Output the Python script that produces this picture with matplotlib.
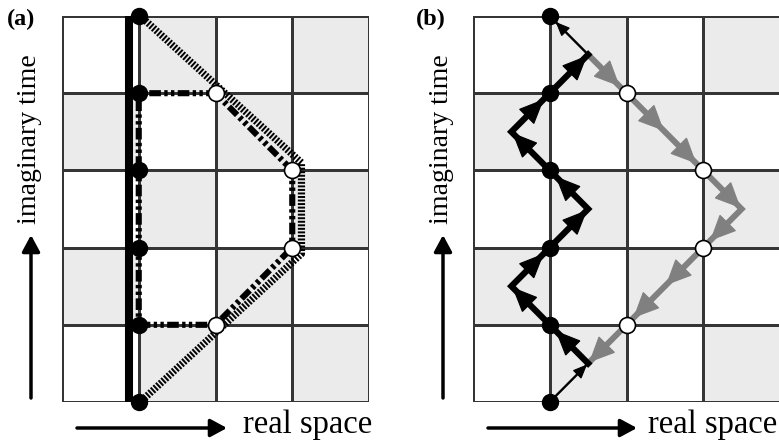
import matplotlib.pyplot as plt
import numpy as np
from matplotlib.colors import ListedColormap
from matplotlib.patches import FancyArrowPatch

# checkerboard, rows listed from bottom to top, 1 = shaded cell
board = [
    [0, 1, 0, 1],
    [1, 0, 1, 0],
    [0, 1, 0, 1],
    [1, 0, 1, 0],
    [0, 1, 0, 1],
]

# (a) classical path, imaginary-time slices, loop and hatched envelope
slice_y = [0, 1, 2, 3, 4, 5]
slice_x = [1, 1, 1, 1, 1, 1]
classical_x = [0.87, 0.87]
classical_y = [0, 5]
loop_x = [1, 2, 3, 3, 2, 1, 1]
loop_y = [1, 1, 2, 3, 4, 4, 1]
hatch_x = [1.02, 3.12, 3.12, 1.02]
hatch_y = [5.0, 3.1, 1.92, 0.0]
open_x = [2, 3, 3, 2]
open_y = [1, 2, 3, 4]

# (b) zig-zag worldline (black) and excursion (gray)
zig_x = [1, 1.5, 1, 0.5, 1, 1.5, 1, 0.5, 1, 1.5, 1]
zig_y = [0, 0.5, 1, 1.5, 2, 2.5, 3, 3.5, 4, 4.5, 5]
gray_x = [1.5, 2, 2.5, 3, 3.5, 3, 2.5, 2, 1.5]
gray_y = [4.5, 4, 3.5, 3, 2.5, 2, 1.5, 1, 0.5]
node_x = [1, 1, 1, 1, 1, 1]
node_y = [0, 1, 2, 3, 4, 5]
hole_x = [2, 3, 3, 2]
hole_y = [4, 3, 2, 1]

W, H = 779, 441
fig = plt.figure(figsize=(W / 100, H / 100), dpi=100)
plt.rcParams["font.family"] = ["Liberation Serif", "DejaVu Serif"]

shade = ListedColormap(["white", "#ebebeb"])


def grid_axes(left_px):
    ax = fig.add_axes((left_px / W, (H - 402) / H, 307 / W, 386 / H))
    ax.pcolormesh(np.arange(5), np.arange(6), np.array(board), cmap=shade,
                  edgecolors="#353535", linewidth=0.75, zorder=0)
    ax.set_xlim(0, 4)
    ax.set_ylim(0, 5)
    ax.set_axis_off()
    return ax


def head(ax, p0, p1, color, size, shrink, z):
    hl, hw = size
    ax.add_patch(FancyArrowPatch(
        p0, p1, arrowstyle=f"-|>,head_length={hl},head_width={hw}",
        mutation_scale=10, color=color, lw=0.8, shrinkA=0, shrinkB=shrink,
        joinstyle="miter", zorder=z, clip_on=False))


# ---- panel (a)
ax1 = grid_axes(62)
ax1.plot(classical_x, classical_y, color="black", lw=5.8, solid_capstyle="butt",
         zorder=2, clip_on=False)
ax1.plot(hatch_x, hatch_y, color="black", lw=5.2, dashes=(0.27, 0.22),
         dash_capstyle="butt", zorder=2, clip_on=False)
ax1.plot(loop_x, loop_y, color="black", lw=4.4, dashes=(1.9, 0.55, 0.55, 0.55, 0.55, 0.55),
         dash_capstyle="butt", zorder=3, clip_on=False)
ax1.plot(slice_x, slice_y, "o", color="black", ms=11.5, ls="none", zorder=5, clip_on=False)
ax1.plot(open_x, open_y, "o", mfc="white", mec="black", mew=1.2, ms=11.5, ls="none",
         zorder=5, clip_on=False)

# ---- panel (b)
ax2 = grid_axes(473)
ax2.plot(gray_x, gray_y, color="#808080", lw=4.3, solid_joinstyle="miter", zorder=2,
         clip_on=False)
for k in range(len(gray_x) - 1):
    p0 = (gray_x[k], gray_y[k])
    p1 = (gray_x[k + 1], gray_y[k + 1])
    ends_on_node = float(p1[0]).is_integer()
    head(ax2, p0, p1, "#808080", (1.7, 0.78), 7 if ends_on_node else 1, 2)

ax2.plot(zig_x[1:-1], zig_y[1:-1], color="black", lw=4.5, solid_joinstyle="miter",
         zorder=3, clip_on=False)
ax2.plot(zig_x[:2], zig_y[:2], color="black", lw=1.7, zorder=3, clip_on=False)
ax2.plot(zig_x[-2:], zig_y[-2:], color="black", lw=1.7, zorder=3, clip_on=False)
for k in range(len(zig_x) - 1):
    p0 = (zig_x[k], zig_y[k])
    p1 = (zig_x[k + 1], zig_y[k + 1])
    ends_on_node = float(p1[0]).is_integer()
    thin = k == 0 or k == len(zig_x) - 2
    size = (0.9, 0.38) if thin else (1.65, 0.72)
    head(ax2, p0, p1, "black", size, 6 if ends_on_node else 1, 3)

ax2.plot(node_x, node_y, "o", color="black", ms=11.5, ls="none", zorder=5, clip_on=False)
ax2.plot(hole_x, hole_y, "o", mfc="white", mec="black", mew=1.2, ms=11.5, ls="none",
         zorder=5, clip_on=False)

# ---- overlay for panel letters and axis arrows (pixel coordinates)
ov = fig.add_axes((0, 0, 1, 1))
ov.set_xlim(0, W)
ov.set_ylim(H, 0)
ov.set_axis_off()

arrow_props = dict(arrowstyle="-|>,head_length=0.5,head_width=0.27", lw=2.5,
                   color="black", shrinkA=0, shrinkB=0, mutation_scale=20)
for letter, lx, vx, hx0, hx1, tx in [("(a)", 21, 31, 77, 227, 243),
                                     ("(b)", 431, 443, 488, 637, 648)]:
    ov.text(lx, 19, letter, fontsize=17.5, fontweight="bold", ha="center", va="center")
    ov.annotate("", xy=(vx, 235), xytext=(vx, 398), arrowprops=arrow_props)
    ov.annotate("", xy=(hx1, 428), xytext=(hx0, 428), arrowprops=arrow_props)
    ov.text(vx - 1, 139, "imaginary time", fontsize=20, rotation=90,
            ha="center", va="center")
    ov.text(tx, 433, "real space", fontsize=23.5, ha="left", va="baseline")

fig.savefig("out.png", dpi=100)
